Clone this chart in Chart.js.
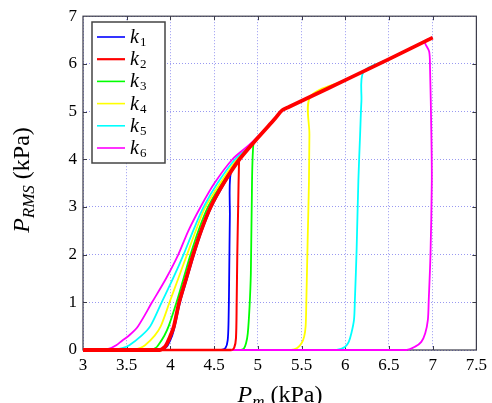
<!DOCTYPE html>
<html lang="en">
<head>
<meta charset="UTF-8">
<title>P_RMS vs P_m</title>
<script src="https://cdn.jsdelivr.net/npm/chart.js"></script>
<style>
  html, body { margin: 0; padding: 0; background: #fff; }
</style>
</head>
<body>
<canvas id="chart" width="492" height="403"></canvas>
<script>
// axis ticks
const xTicks = [3, 3.5, 4, 4.5, 5, 5.5, 6, 6.5, 7, 7.5];
const yTicks = [0, 1, 2, 3, 4, 5, 6, 7];

const labels = ['1', '2', '3', '4', '5', '6'];
const colors = ['#0000ff', '#ff0000', '#00ff00', '#ffff00', '#00ffff', '#ff00ff'];

// upper branch shared by all curves
const upperX = [4.79, 5.0, 5.2, 5.28, 5.36, 5.6, 6.0, 6.5, 7.0];
const upperY = [4.0, 4.45, 4.86, 5.03, 5.10, 5.31, 5.66, 6.10, 6.55];

// k1 - jump (bottom to top) and lower branch (top to bottom)
const k1JumpX = [4.58, 4.63, 4.655, 4.665, 4.672, 4.68, 4.69];
const k1JumpY = [0, 0.04, 0.2, 0.6, 1.5, 2.8, 3.72];
const k1LowX = [4.79, 4.62, 4.47, 4.36, 4.27, 4.19, 4.11, 4.05, 4.02, 3.97, 3.94, 3.90, 3.0];
const k1LowY = [4.0, 3.5, 3.0, 2.5, 2.0, 1.5, 1.0, 0.5, 0.3, 0.1, 0.04, 0, 0];

// k2
const k2JumpX = [4.70, 4.73, 4.75, 4.758, 4.765, 4.775, 4.785];
const k2JumpY = [0, 0.05, 0.25, 1.0, 2.0, 3.0, 3.97];
const k2LowX = [4.79, 4.61, 4.46, 4.35, 4.26, 4.18, 4.10, 4.04, 4.00, 3.95, 3.92, 3.88, 3.0];
const k2LowY = [4.0, 3.5, 3.0, 2.5, 2.0, 1.5, 1.0, 0.5, 0.3, 0.1, 0.04, 0, 0];

// k3
const k3JumpX = [4.80, 4.84, 4.865, 4.885, 4.905, 4.92, 4.93, 4.95];
const k3JumpY = [0, 0.03, 0.14, 0.35, 0.9, 1.6, 3.0, 4.34];
const k3LowX = [4.90, 4.77, 4.59, 4.43, 4.32, 4.23, 4.15, 4.07, 3.98, 3.93, 3.86, 3.83, 3.78, 3.0];
const k3LowY = [4.24, 4.0, 3.5, 3.0, 2.5, 2.0, 1.5, 1.0, 0.5, 0.3, 0.1, 0.04, 0, 0];

// k4
const k4JumpX = [5.38, 5.45, 5.50, 5.53, 5.547, 5.555, 5.57, 5.585, 5.59, 5.60];
const k4JumpY = [0, 0.04, 0.14, 0.28, 0.5, 1.04, 2.3, 3.55, 4.52, 5.31];
const k4LowX = [4.92, 4.76, 4.57, 4.40, 4.29, 4.19, 4.09, 3.99, 3.89, 3.82, 3.71, 3.65, 3.57, 3.0];
const k4LowY = [4.28, 4.0, 3.5, 3.0, 2.5, 2.0, 1.5, 1.0, 0.5, 0.3, 0.1, 0.04, 0, 0];

// k5
const k5JumpX = [5.90, 6.00, 6.04, 6.07, 6.10, 6.11, 6.13, 6.15, 6.17, 6.185, 6.21];
const k5JumpY = [0, 0.07, 0.17, 0.35, 0.63, 1.04, 2.1, 3.55, 4.52, 5.22, 5.84];
const k5LowX = [4.95, 4.74, 4.54, 4.38, 4.26, 4.15, 4.03, 3.90, 3.77, 3.67, 3.53, 3.45, 3.34, 3.0];
const k5LowY = [4.34, 4.0, 3.5, 3.0, 2.5, 2.0, 1.5, 1.0, 0.5, 0.3, 0.1, 0.04, 0, 0];

// k6
const k6JumpX = [6.70, 6.80, 6.87, 6.915, 6.945, 6.955, 6.975, 6.99, 6.985, 6.97, 6.96, 6.91];
const k6JumpY = [0, 0.07, 0.17, 0.35, 0.63, 1.04, 2.0, 3.55, 4.52, 5.91, 6.26, 6.47];
const k6LowX = [5.10, 4.90, 4.71, 4.505, 4.345, 4.205, 4.09, 3.95, 3.79, 3.63, 3.53, 3.45, 3.38, 3.30, 3.19, 3.0];
const k6LowY = [4.66, 4.30, 4.0, 3.5, 3.0, 2.5, 2.0, 1.5, 1.0, 0.5, 0.31, 0.2, 0.1, 0.03, 0, 0];

const jumps = [[k1JumpX, k1JumpY], [k2JumpX, k2JumpY], [k3JumpX, k3JumpY], [k4JumpX, k4JumpY], [k5JumpX, k5JumpY], [k6JumpX, k6JumpY]];
const lows = [[k1LowX, k1LowY], [k2LowX, k2LowY], [k3LowX, k3LowY], [k4LowX, k4LowY], [k5LowX, k5LowY], [k6LowX, k6LowY]];

// one hysteresis loop: zero line, jump up, upper branch out and back, lower branch down
function buildLoop(jx, jy, lx, ly) {
    const pts = [{x: 3, y: 0}];
    jx.forEach((x, i) => pts.push({x: x, y: jy[i]}));
    const topX = jx[jx.length - 1];
    upperX.forEach((x, i) => { if (x > topX) pts.push({x: x, y: upperY[i]}); });
    for (let i = upperX.length - 1; i >= 0; i--) {
        if (upperX[i] > lx[0]) pts.push({x: upperX[i], y: upperY[i]});
    }
    lx.forEach((x, i) => pts.push({x: x, y: ly[i]}));
    return pts;
}

// red on top, then magenta, cyan, ... blue at the bottom
const drawOrder = [5, 0, 4, 3, 2, 1];

const datasets = labels.map((lab, i) => {
    const nJump = jumps[i][0].length;
    return {
        label: 'k' + lab,
        data: buildLoop(jumps[i][0], jumps[i][1], lows[i][0], lows[i][1]),
        borderColor: colors[i],
        backgroundColor: colors[i],
        borderWidth: 1.8,
        pointRadius: 0,
        showLine: true,
        tension: 0.3,
        clip: 5,
        order: drawOrder[i],
        segment: i === 1 ? {
            borderWidth: ctx => {
                if (ctx.p0DataIndex === 0) return 2.6;
                if (ctx.p0DataIndex < nJump) return 2;
                return 3.8;
            }
        } : undefined
    };
});

const serif = '"Liberation Serif", "DejaVu Serif", serif';

// frame, inner tick marks, legend and axis titles
const decorations = {
    id: 'decorations',
    beforeDatasetsDraw(chart) {
        const {ctx, chartArea: a, scales} = chart;
        ctx.save();
        ctx.strokeStyle = '#3a3a48';
        ctx.lineWidth = 1;
        xTicks.slice(1, -1).forEach(v => {
            const px = Math.round(scales.x.getPixelForValue(v)) + 0.5;
            ctx.beginPath();
            ctx.moveTo(px, a.bottom); ctx.lineTo(px, a.bottom - 4);
            ctx.moveTo(px, a.top); ctx.lineTo(px, a.top + 4);
            ctx.stroke();
        });
        yTicks.slice(1, -1).forEach(v => {
            const py = Math.round(scales.y.getPixelForValue(v)) + 0.5;
            ctx.beginPath();
            ctx.moveTo(a.left, py); ctx.lineTo(a.left + 4, py);
            ctx.moveTo(a.right, py); ctx.lineTo(a.right - 4, py);
            ctx.stroke();
        });
        ctx.lineWidth = 1.2;
        ctx.strokeRect(a.left, a.top, a.right - a.left, a.bottom - a.top);
        ctx.restore();
    },
    afterDraw(chart) {
        const ctx = chart.ctx;
        ctx.save();

        // legend box
        const bx = 92, by = 22, bw = 73, bh = 141;
        ctx.fillStyle = '#fff';
        ctx.fillRect(bx, by, bw, bh);
        ctx.strokeStyle = '#444';
        ctx.lineWidth = 1.5;
        ctx.strokeRect(bx, by, bw, bh);
        labels.forEach((lab, i) => {
            const cy = 37 + i * 22.2;
            ctx.strokeStyle = colors[i];
            ctx.lineWidth = i === 1 ? 2.2 : 1.6;
            ctx.beginPath();
            ctx.moveTo(97, cy); ctx.lineTo(125, cy);
            ctx.stroke();
            ctx.fillStyle = '#000';
            ctx.textBaseline = 'alphabetic';
            ctx.textAlign = 'left';
            ctx.font = 'italic 20px ' + serif;
            ctx.fillText('k', 130, cy + 6);
            const kw = ctx.measureText('k').width;
            ctx.font = '13px ' + serif;
            ctx.fillText(lab, 130 + kw + 1, cy + 9);
        });

        // axis titles
        const drawParts = (parts, cx, cy) => {
            let total = 0;
            parts.forEach(p => { ctx.font = p.f; total += ctx.measureText(p.t).width; });
            let x = cx - total / 2;
            parts.forEach(p => {
                ctx.font = p.f;
                ctx.fillText(p.t, x, cy + p.dy);
                x += ctx.measureText(p.t).width;
            });
        };
        ctx.fillStyle = '#000';
        ctx.textAlign = 'left';
        ctx.textBaseline = 'alphabetic';
        drawParts([
            {t: 'P', f: 'italic 24px ' + serif, dy: 0},
            {t: 'm', f: 'italic 17px ' + serif, dy: 5},
            {t: ' (kPa)', f: '24px ' + serif, dy: 0}
        ], 280, 402);

        ctx.translate(29, 180);
        ctx.rotate(-Math.PI / 2);
        drawParts([
            {t: 'P', f: 'italic 24px ' + serif, dy: 0},
            {t: 'RMS', f: 'italic 17px ' + serif, dy: 5},
            {t: ' (kPa)', f: '24px ' + serif, dy: 0}
        ], 0, 0);
        ctx.restore();
    }
};

new Chart(document.getElementById('chart'), {
    type: 'scatter',
    data: { datasets: datasets },
    options: {
        responsive: false,
        animation: false,
        devicePixelRatio: 1,
        layout: { padding: { left: 0, top: 15, right: 14, bottom: 0 } },
        plugins: {
            legend: { display: false },
            tooltip: { enabled: false }
        },
        scales: {
            x: {
                type: 'linear',
                min: 3,
                max: 7.5,
                afterFit: s => { s.height = 53; },
                afterBuildTicks: s => { s.ticks = xTicks.map(v => ({value: v})); },
                ticks: {
                    autoSkip: false,
                    maxRotation: 0,
                    padding: 5,
                    color: '#000',
                    font: { family: serif, size: 17 },
                    callback: v => String(v)
                },
                grid: { color: 'rgba(110, 110, 235, 0.7)', lineWidth: 1, drawTicks: false },
                border: { display: false, dash: [1, 2] }
            },
            y: {
                type: 'linear',
                min: 0,
                max: 7,
                afterFit: s => { s.width = 83; },
                afterBuildTicks: s => { s.ticks = yTicks.map(v => ({value: v})); },
                ticks: {
                    autoSkip: false,
                    padding: 6,
                    color: '#000',
                    font: { family: serif, size: 17 },
                    callback: v => String(v)
                },
                grid: { color: 'rgba(110, 110, 235, 0.7)', lineWidth: 1, drawTicks: false },
                border: { display: false, dash: [1, 2] }
            }
        }
    },
    plugins: [decorations]
});
</script>
</body>
</html>
